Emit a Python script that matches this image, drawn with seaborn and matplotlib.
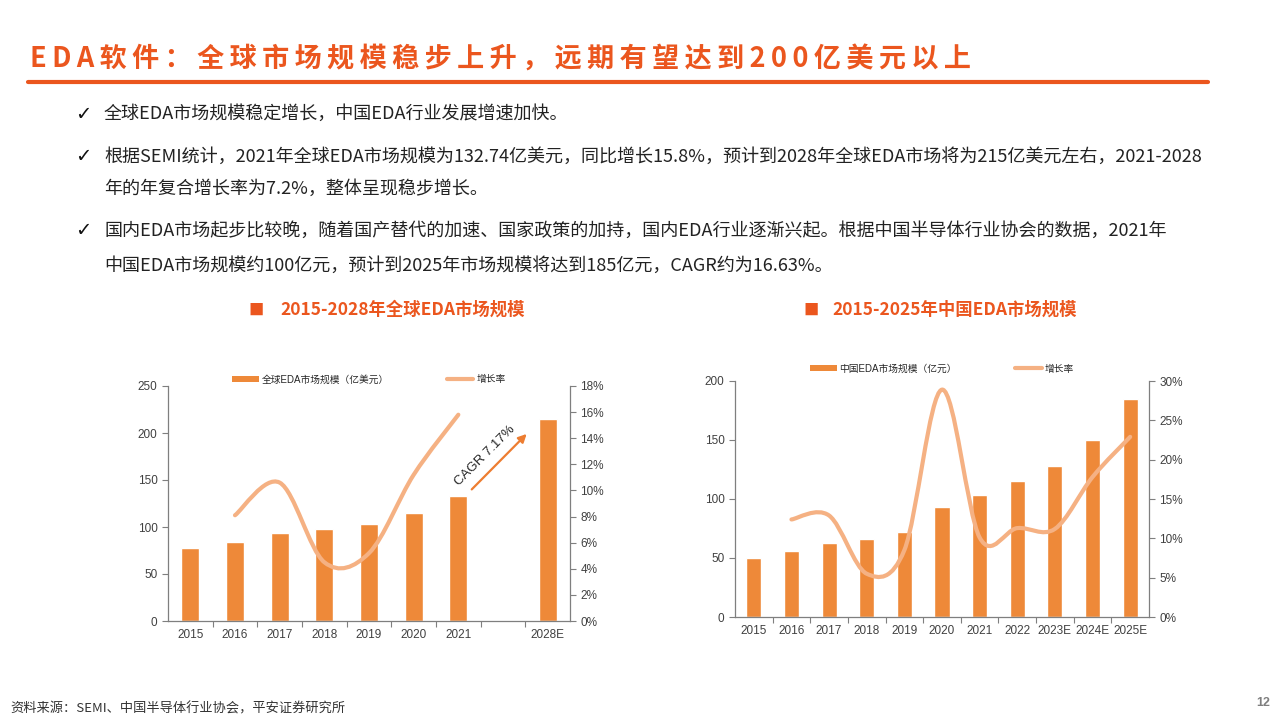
import numpy as np
import pandas as pd
import seaborn as sns
import matplotlib.pyplot as plt
from matplotlib.path import Path
from matplotlib.patches import PathPatch, Patch
from matplotlib.lines import Line2D
from matplotlib.ticker import MultipleLocator, PercentFormatter


# Data
global_slots = ['2015', '2016', '2017', '2018', '2019', '2020', '2021', ' ', '2028E']
global_years = ['2015', '2016', '2017', '2018', '2019', '2020', '2021', '2028E']
global_size = [78.0, 84.5, 94.0, 98.2, 103.0, 114.7, 132.74, 215.0]
global_growth = [np.nan, 8.1, 10.6, 4.5, 5.2, 11.2, 15.8, np.nan]

china_years = ['2015', '2016', '2017', '2018', '2019', '2020', '2021', '2022',
               '2023E', '2024E', '2025E']
china_size = [50.0, 56.0, 63.0, 66.3, 72.2, 93.4, 103.2, 115.1, 128.1, 150.4, 185.0]
china_growth = [np.nan, 12.4, 12.9, 5.5, 8.5, 28.9, 10.1, 11.3, 11.2, 17.8, 22.9]

BAR = '#EE8939'
LINE = '#F5B183'
RED = '#EB561E'
AXC = '#7f7f7f'
TXT = '#404040'
CJK = ['Noto Sans CJK SC', 'DejaVu Sans']

sns.set_theme(style='white')
plt.rcParams['font.family'] = ['Liberation Sans', 'Noto Sans CJK SC', 'DejaVu Sans']

fig = plt.figure(figsize=(12.8, 7.2), dpi=100)


# Excel style smoothed line: cubic bezier through the points
def smooth_path(xs, ys):
    pts = np.column_stack([xs, ys]).astype(float)
    n = len(pts)
    verts = [pts[0]]
    codes = [Path.MOVETO]
    for i in range(n - 1):
        p0, p1 = pts[max(i - 1, 0)], pts[i]
        p2, p3 = pts[i + 1], pts[min(i + 2, n - 1)]
        verts += [p1 + (p2 - p0) / 6, p2 - (p3 - p1) / 6, p2]
        codes += [Path.CURVE4] * 3
    return Path(verts, codes)


def draw_chart(rect, slots, years, sizes, growth, ymax, ystep, gmax, gstep,
               bar_label, legend_y):
    ax = fig.add_axes(rect)
    df = pd.DataFrame({'year': years, 'size': sizes})
    sns.barplot(data=df, x='year', y='size', order=slots, color=BAR, width=0.4,
                saturation=1, errorbar=None, ax=ax)
    ax.set_xlabel('')
    ax.set_ylabel('')
    ax.set_xlim(-0.5, len(slots) - 0.5)
    ax.set_ylim(0, ymax)
    ax.yaxis.set_major_locator(MultipleLocator(ystep))
    ax.set_xticks(range(len(slots)))
    ax.set_xticklabels(slots)
    ax.set_xticks(np.arange(0.5, len(slots) - 1), minor=True)
    ax.tick_params(axis='x', which='major', length=0, labelsize=8.5, colors=TXT, pad=6)
    ax.tick_params(axis='x', which='minor', length=4, width=0.8, color=AXC,
                   direction='out', bottom=True)
    ax.tick_params(axis='y', length=4, width=0.8, color=AXC, direction='out',
                   left=True, labelsize=8.5, labelcolor=TXT)
    for s in ['top', 'right']:
        ax.spines[s].set_visible(False)
    for s in ['left', 'bottom']:
        ax.spines[s].set_color(AXC)
        ax.spines[s].set_linewidth(0.9)

    ax2 = ax.twinx()
    ax2.set_ylim(0, gmax)
    ax2.yaxis.set_major_locator(MultipleLocator(gstep))
    ax2.yaxis.set_major_formatter(PercentFormatter(decimals=0))
    ax2.tick_params(axis='y', length=4, width=0.8, color=AXC, direction='out',
                    right=True, labelsize=8.5, labelcolor=TXT)
    for s in ['top', 'left', 'bottom']:
        ax2.spines[s].set_visible(False)
    ax2.spines['right'].set_color(AXC)
    ax2.spines['right'].set_linewidth(0.9)
    ax2.grid(False)
    ax.grid(False)

    gx = [slots.index(y) for y, g in zip(years, growth) if not np.isnan(g)]
    gy = [g for g in growth if not np.isnan(g)]
    ax2.add_patch(PathPatch(smooth_path(gx, gy), fill=False, edgecolor=LINE,
                            lw=3, capstyle='round'))

    handles = [Patch(facecolor=BAR, edgecolor='none'),
               Line2D([], [], color=LINE, lw=3)]
    ax2.legend(handles, [bar_label, '增长率'], ncol=2, loc='lower center',
               bbox_to_anchor=(0.5, legend_y), frameon=False, fontsize=7,
               handlelength=2.7, handleheight=0.5, columnspacing=6,
               handletextpad=0.3, borderaxespad=0)
    return ax, ax2


axL, axL2 = draw_chart([168 / 1280, 1 - 621 / 720, 402 / 1280, 235 / 720],
                       global_slots, global_years, global_size, global_growth,
                       250, 50, 18, 2, '全球EDA市场规模（亿美元）', 0.99)
axR, axR2 = draw_chart([735 / 1280, 1 - 617 / 720, 414 / 1280, 236 / 720],
                       china_years, china_years, china_size, china_growth,
                       200, 50, 30, 5, '中国EDA市场规模（亿元）', 1.015)

# CAGR arrow on the global chart
axL.annotate('', xy=(7.53, 199), xytext=(6.3, 140),
             arrowprops=dict(arrowstyle='-|>', color='#ED7D31', lw=1.6,
                             mutation_scale=12, shrinkA=0, shrinkB=0))
axL.text(6.6, 176, 'CAGR 7.17%', rotation=45, ha='center', va='center',
         fontsize=9.5, color='#262626')

# Title and rule (thin spaces give the wide letter spacing of the original)
title = 'EDA软件：全球市场规模稳步上升，远期有望达到200亿美元以上'
fig.text(30 / 1280, 1 - 60 / 720, '\u2009'.join(title),
         fontsize=19.5, fontweight='bold', color=RED, va='center', family=CJK)
fig.add_artist(Line2D([28 / 1280, 1208 / 1280], [1 - 82 / 720, 1 - 82 / 720],
                      color=RED, lw=3))

# Bullet text
bullets = [
    (114, True, '全球EDA市场规模稳定增长，中国EDA行业发展增速加快。'),
    (157, True, '根据SEMI统计，2021年全球EDA市场规模为132.74亿美元，同比增长15.8%，预计到2028年全球EDA市场将为215亿美元左右，2021-2028'),
    (189, False, '年的年复合增长率为7.2%，整体呈现稳步增长。'),
    (231, True, '国内EDA市场起步比较晚，随着国产替代的加速、国家政策的加持，国内EDA行业逐渐兴起。根据中国半导体行业协会的数据，2021年'),
    (266, False, '中国EDA市场规模约100亿元，预计到2025年市场规模将达到185亿元，CAGR约为16.63%。'),
]
for y, mark, line in bullets:
    if mark:
        fig.text(75 / 1280, 1 - y / 720, '✓', fontsize=14, color='#111111', va='center',
                 family=['DejaVu Sans'])
    fig.text(104 / 1280, 1 - y / 720, line, fontsize=13, color='#222222', va='center',
             family=CJK)

# Chart headings
for x_sq, x_txt, label in [(248, 280, '2015-2028年全球EDA市场规模'),
                           (803, 832, '2015-2025年中国EDA市场规模')]:
    fig.text(x_sq / 1280, 1 - 310 / 720, '■', fontsize=11, color=RED, va='center',
             family=CJK)
    fig.text(x_txt / 1280, 1 - 310 / 720, label, fontsize=12.5, fontweight='bold',
             color=RED, va='center', family=CJK)

# Footer
fig.text(10 / 1280, 1 - 709 / 720, '资料来源：SEMI、中国半导体行业协会，平安证券研究所',
         fontsize=9.5, color='#333333', va='center', family=CJK)
fig.text(1270 / 1280, 1 - 703 / 720, '12', fontsize=9, color='#7f7f7f', va='center',
         ha='right', fontweight='bold')

fig.savefig('out.png', dpi=100)
